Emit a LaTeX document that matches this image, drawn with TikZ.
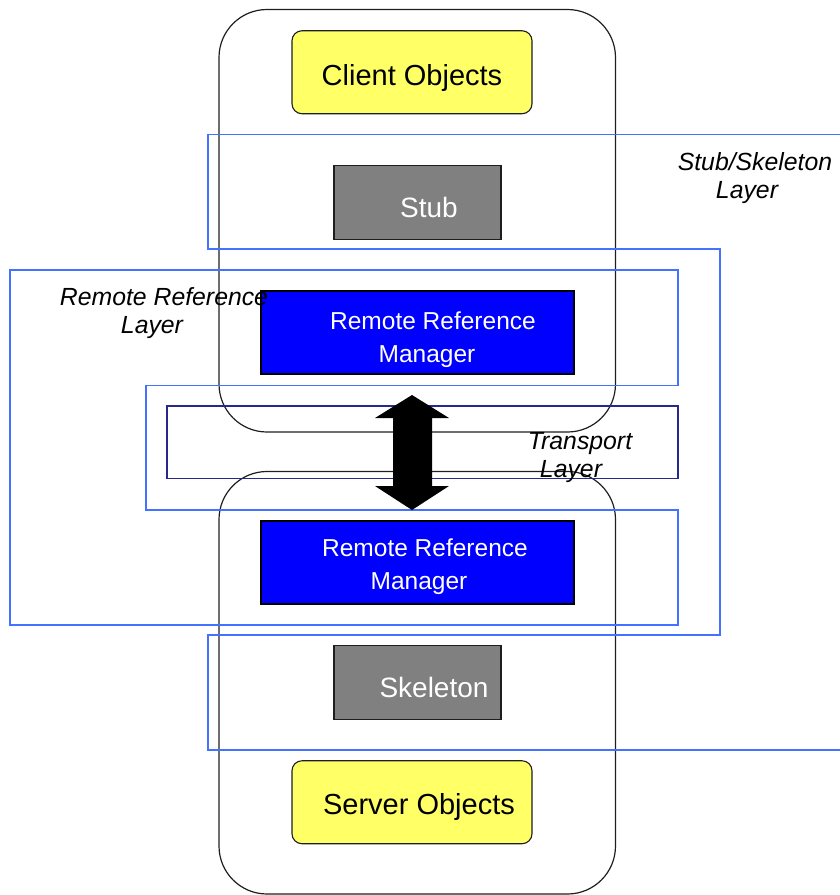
\documentclass[tikz,border=0pt]{standalone}
\usepackage{fontspec}
\setmainfont{Liberation Sans}
\definecolor{objyellow}{RGB}{255,255,102}
\definecolor{boxgray}{RGB}{128,128,128}
\definecolor{mgrblue}{RGB}{0,0,255}
\definecolor{layerblue}{RGB}{66,114,255}
\definecolor{transnavy}{RGB}{40,40,140}
\definecolor{edge}{RGB}{30,30,30}
\begin{document}
\begin{tikzpicture}[x=1pt,y=-1pt,
  container/.style={draw=edge, line width=1.2pt, rounded corners=48pt,
    minimum width=396.5pt, minimum height=422.5pt, inner sep=0pt},
  objbox/.style={draw=edge, fill=objyellow, line width=1.1pt, rounded corners=10pt,
    minimum width=240pt, minimum height=83pt, inner sep=0pt},
  stubbox/.style={draw=edge, fill=boxgray, line width=1.1pt,
    minimum width=167pt, minimum height=74pt, inner sep=0pt},
  mgrbox/.style={draw=black, fill=mgrblue, line width=1.1pt,
    minimum width=313pt, minimum height=83pt, inner sep=0pt},
  layerline/.style={draw=layerblue, line width=1.5pt},
  transbox/.style={draw=transnavy, line width=1.2pt,
    minimum width=511pt, minimum height=72.5pt, inner sep=0pt},
  objtext/.style={inner sep=0pt, font=\fontsize{29}{33}\selectfont},
  stubtext/.style={inner sep=0pt, text=white, font=\fontsize{28}{32}\selectfont},
  mgrtext/.style={inner sep=0pt, text=white, align=center, font=\fontsize{24.5}{33}\selectfont},
  layertext/.style={inner sep=0pt, align=center, font=\fontsize{24.8}{28.5}\selectfont\itshape},
]
\useasboundingbox (0,0) rectangle (840,895);

% client and server containers
\node[container] (clientside) at (417.25,220.75) {};
\node[container] (serverside) at (417.25,682.75) {};

% layer outlines
\draw[layerline] (840,134.5) -- (208,134.5) -- (208,249) -- (720,249) -- (720,635)
  -- (208,635) -- (208,750) -- (840,750);
\draw[layerline] (10,270) -- (678,270) -- (678,385.5) -- (146,385.5) -- (146,510)
  -- (678,510) -- (678,625) -- (10,625) -- cycle;
\node[transbox] (transport) at (422.5,442.25) {};

% boxes
\node[objbox] (client) at (412,72.25) {};
\node[stubbox] (stub) at (417.5,202.25) {};
\node[mgrbox] (rrmtop) at (417.5,332.5) {};
\node[mgrbox] (rrmbot) at (417.5,562.5) {};
\node[stubbox] (skeleton) at (417.5,682.25) {};
\node[objbox] (server) at (412,802.25) {};

% double arrow between the two reference managers
\coordinate (arrowc) at (412,452.5);
\fill[black] (arrowc) ++(0,-57.5) -- ++(37,23) -- ++(-17,0) -- ++(0,68) -- ++(17,0)
  -- ++(-37,24) -- ++(-37,-24) -- ++(18,0) -- ++(0,-68) -- ++(-18,0) -- cycle;

% box texts
\node[objtext] (clienttxt) at (412,78) {Client Objects};
\node[stubtext] (stubtxt) at (429,207) {Stub};
\node[mgrtext] (rrmtoptxt) at (433,340) {Remote Reference\\Manager\hspace*{12pt}};
\node[mgrtext] (rrmbottxt) at (425,567) {Remote Reference\\Manager\hspace*{12pt}};
\node[stubtext] (skeletontxt) at (434,687) {Skeleton};
\node[objtext] (servertxt) at (419,807) {Server Objects};

% layer labels
\node[layertext] (rrlabel) at (164,313) {Remote Reference\\Layer\hspace*{24pt}};
\node[layertext] (sslabel) at (755,178) {Stub/Skeleton\\Layer\hspace*{16pt}};
\node[layertext] (tlabel) at (580,457.5) {Transport\\Layer\hspace*{18pt}};
\end{tikzpicture}
\end{document}
